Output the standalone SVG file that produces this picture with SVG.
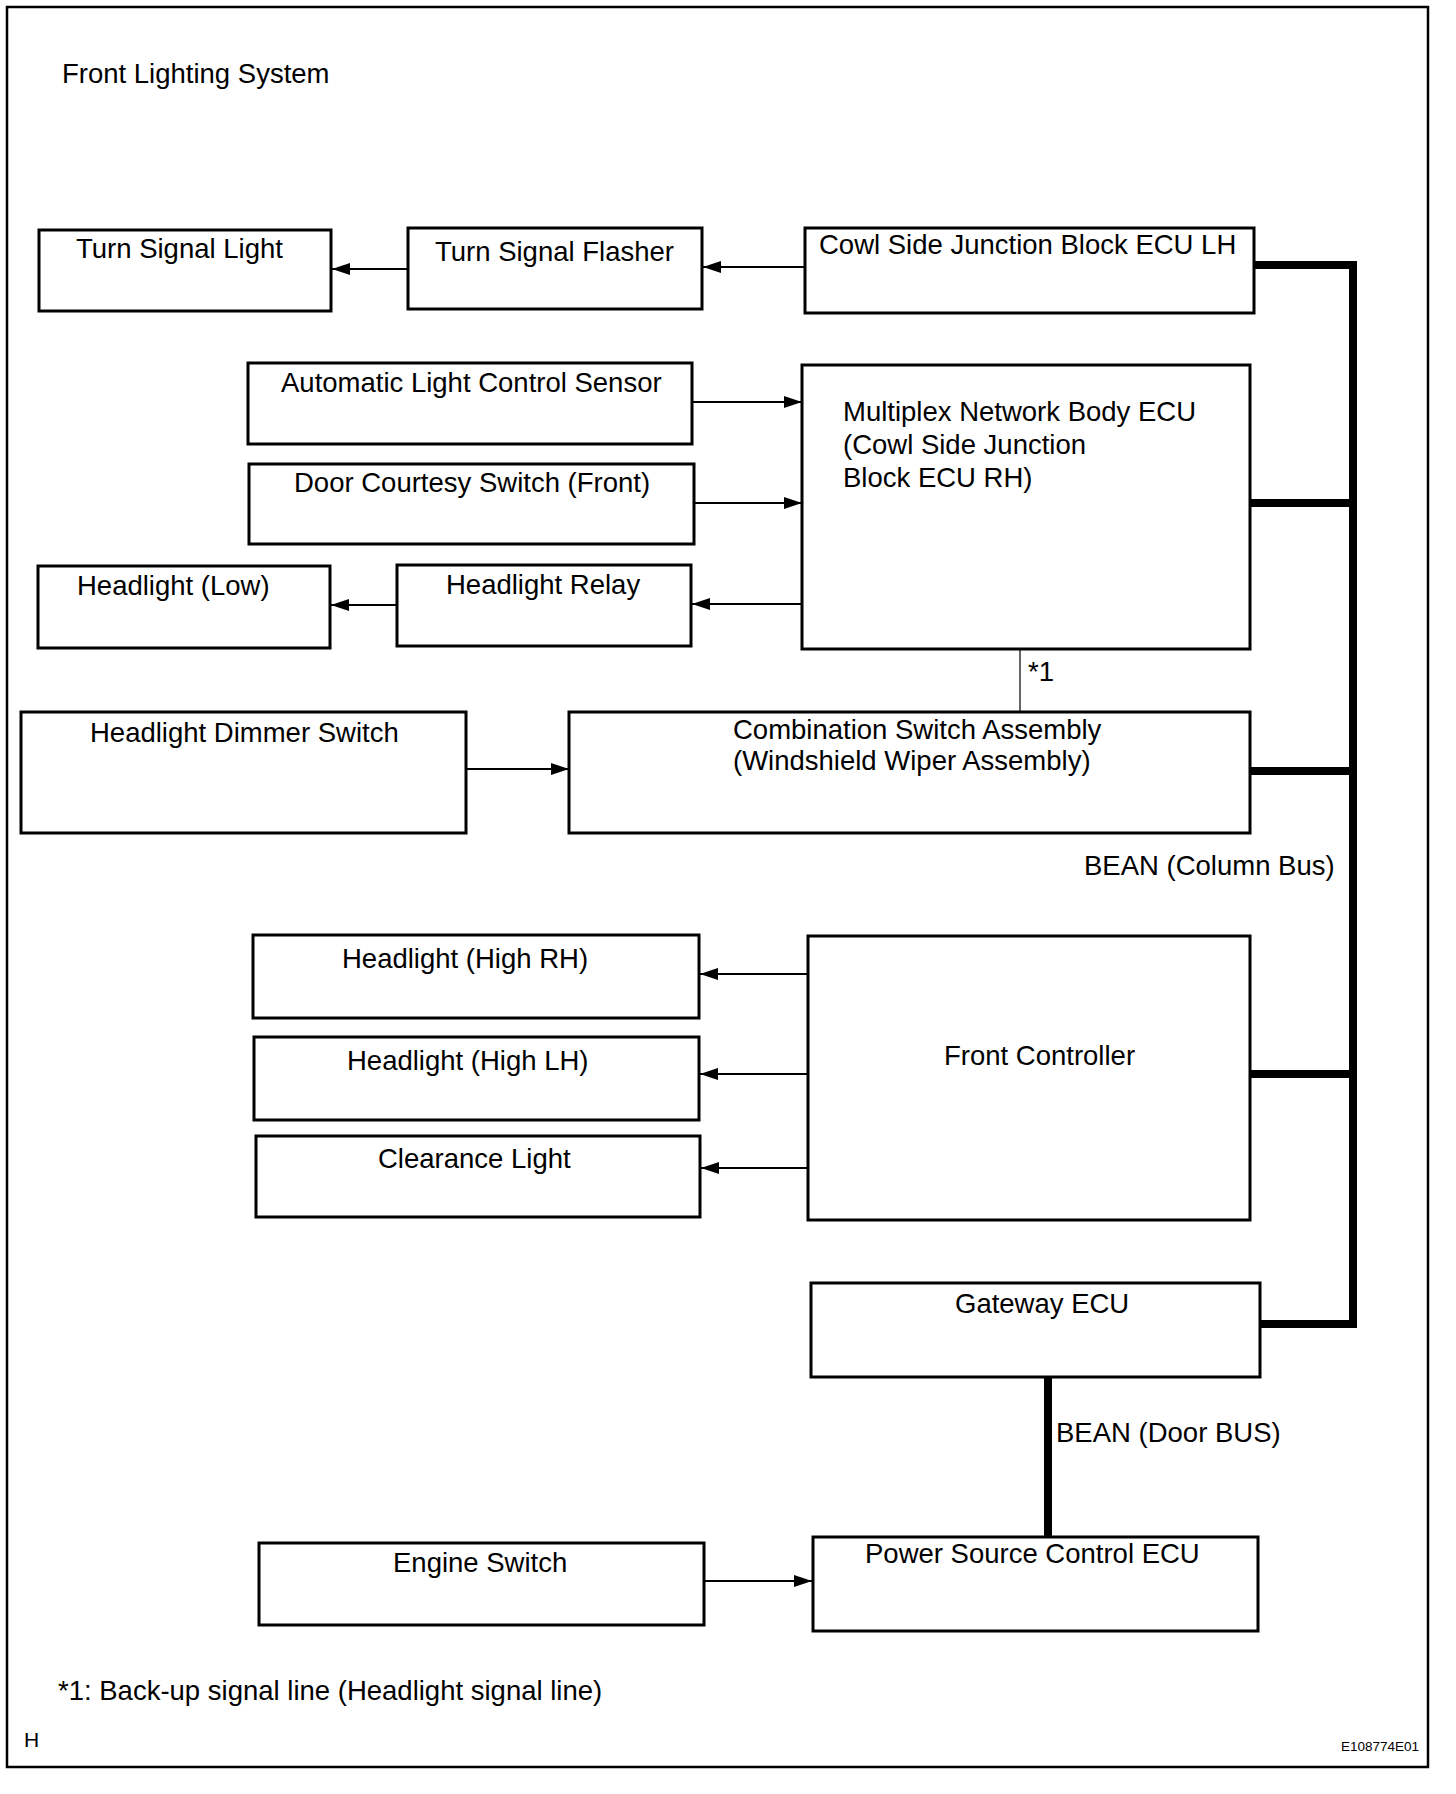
<svg xmlns="http://www.w3.org/2000/svg" width="1456" height="1794" viewBox="0 0 1456 1794">
<style>
  .box { fill: #fff; stroke: #000; stroke-width: 3; }
  .t { font-family: "Liberation Sans", Arial, sans-serif; font-size: 27.5px; fill: #000; }
  .s { font-family: "Liberation Sans", Arial, sans-serif; font-size: 13.5px; fill: #000; }
  .h { font-family: "Liberation Sans", Arial, sans-serif; font-size: 21px; fill: #000; }
  .ln { stroke: #000; stroke-width: 2; fill: none; }
  .thin { stroke: #000; stroke-width: 1.2; fill: none; }
  .bus { stroke: #000; stroke-width: 8; fill: none; stroke-linejoin: miter; stroke-linecap: butt; }
</style>
<defs>
  <marker id="arr" markerUnits="userSpaceOnUse" markerWidth="18" markerHeight="12" refX="18" refY="6" orient="auto">
    <path d="M0,0 L18,6 L0,12 z" fill="#000"/>
  </marker>
</defs>
<rect x="0" y="0" width="1456" height="1794" fill="#fff"/>
<rect x="7" y="7" width="1421" height="1760" fill="none" stroke="#000" stroke-width="2.5"/>
<text class="t" x="62" y="83">Front Lighting System</text>

<g id="connectors">
  <line class="ln" x1="805" y1="267" x2="703" y2="267" marker-end="url(#arr)"/>
  <line class="ln" x1="408" y1="269" x2="332" y2="269" marker-end="url(#arr)"/>
  <line class="ln" x1="692" y1="402" x2="802" y2="402" marker-end="url(#arr)"/>
  <line class="ln" x1="694" y1="503" x2="802" y2="503" marker-end="url(#arr)"/>
  <line class="ln" x1="802" y1="604" x2="692" y2="604" marker-end="url(#arr)"/>
  <line class="ln" x1="397" y1="605" x2="331" y2="605" marker-end="url(#arr)"/>
  <line class="thin" x1="1020" y1="649" x2="1020" y2="712"/>
  <line class="ln" x1="466" y1="769" x2="569" y2="769" marker-end="url(#arr)"/>
  <line class="ln" x1="808" y1="974" x2="700" y2="974" marker-end="url(#arr)"/>
  <line class="ln" x1="808" y1="1074" x2="700" y2="1074" marker-end="url(#arr)"/>
  <line class="ln" x1="808" y1="1168" x2="701" y2="1168" marker-end="url(#arr)"/>
  <line class="ln" x1="704" y1="1581" x2="812" y2="1581" marker-end="url(#arr)"/>
  <path class="bus" d="M1255,265 H1353 V1324 H1260"/>
  <line class="bus" x1="1250" y1="503" x2="1353" y2="503"/>
  <line class="bus" x1="1250" y1="771" x2="1353" y2="771"/>
  <line class="bus" x1="1250" y1="1074" x2="1353" y2="1074"/>
  <line class="bus" x1="1048" y1="1377" x2="1048" y2="1537"/>
  <text class="t" x="1028" y="681">*1</text>
  <text class="t" x="1084" y="875">BEAN (Column Bus)</text>
  <text class="t" x="1056" y="1442">BEAN (Door BUS)</text>
</g>

<g id="turn-signal-light">
  <rect class="box" x="39" y="230" width="292" height="81"/>
  <text class="t" x="76" y="258">Turn Signal Light</text>
</g>
<g id="turn-signal-flasher">
  <rect class="box" x="408" y="228" width="294" height="81"/>
  <text class="t" x="435" y="261">Turn Signal Flasher</text>
</g>
<g id="cowl-side-jb-ecu-lh">
  <rect class="box" x="805" y="228" width="449" height="85"/>
  <text class="t" x="819" y="254">Cowl Side Junction Block ECU LH</text>
</g>
<g id="automatic-light-control-sensor">
  <rect class="box" x="248" y="363" width="444" height="81"/>
  <text class="t" x="281" y="392">Automatic Light Control Sensor</text>
</g>
<g id="multiplex-network-body-ecu">
  <rect class="box" x="802" y="365" width="448" height="284"/>
  <text class="t" x="843" y="421">Multiplex Network Body ECU</text>
  <text class="t" x="843" y="454">(Cowl Side Junction</text>
  <text class="t" x="843" y="487">Block ECU RH)</text>
</g>
<g id="door-courtesy-switch">
  <rect class="box" x="249" y="464" width="445" height="80"/>
  <text class="t" x="294" y="492">Door Courtesy Switch (Front)</text>
</g>
<g id="headlight-low">
  <rect class="box" x="38" y="566" width="292" height="82"/>
  <text class="t" x="77" y="595">Headlight (Low)</text>
</g>
<g id="headlight-relay">
  <rect class="box" x="397" y="565" width="294" height="81"/>
  <text class="t" x="446" y="594">Headlight Relay</text>
</g>
<g id="headlight-dimmer-switch">
  <rect class="box" x="21" y="712" width="445" height="121"/>
  <text class="t" x="90" y="742">Headlight Dimmer Switch</text>
</g>
<g id="combination-switch-assembly">
  <rect class="box" x="569" y="712" width="681" height="121"/>
  <text class="t" x="733" y="739">Combination Switch Assembly</text>
  <text class="t" x="733" y="770">(Windshield Wiper Assembly)</text>
</g>
<g id="headlight-high-rh">
  <rect class="box" x="253" y="935" width="446" height="83"/>
  <text class="t" x="342" y="968">Headlight (High RH)</text>
</g>
<g id="front-controller">
  <rect class="box" x="808" y="936" width="442" height="284"/>
  <text class="t" x="944" y="1065">Front Controller</text>
</g>
<g id="headlight-high-lh">
  <rect class="box" x="254" y="1037" width="445" height="83"/>
  <text class="t" x="347" y="1070">Headlight (High LH)</text>
</g>
<g id="clearance-light">
  <rect class="box" x="256" y="1136" width="444" height="81"/>
  <text class="t" x="378" y="1168">Clearance Light</text>
</g>
<g id="gateway-ecu">
  <rect class="box" x="811" y="1283" width="449" height="94"/>
  <text class="t" x="955" y="1313">Gateway ECU</text>
</g>
<g id="engine-switch">
  <rect class="box" x="259" y="1543" width="445" height="82"/>
  <text class="t" x="393" y="1572">Engine Switch</text>
</g>
<g id="power-source-control-ecu">
  <rect class="box" x="813" y="1537" width="445" height="94"/>
  <text class="t" x="865" y="1563">Power Source Control ECU</text>
</g>

<text class="t" x="58" y="1700">*1: Back-up signal line (Headlight signal line)</text>
<text class="h" x="24" y="1747">H</text>
<text class="s" x="1341" y="1751">E108774E01</text>
</svg>
